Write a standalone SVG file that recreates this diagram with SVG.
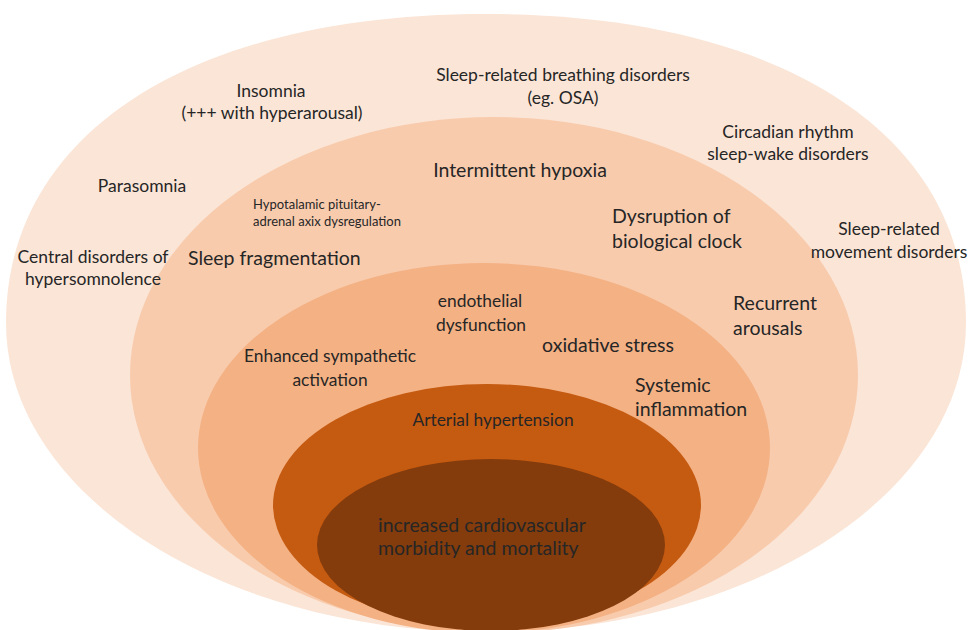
<svg xmlns="http://www.w3.org/2000/svg" width="968" height="630" viewBox="0 0 968 630">
<style>
text{font-family:Lato,"Open Sans","Liberation Sans",sans-serif;fill:#262626}
.c{text-anchor:middle}
.s{text-anchor:start}
.o{font-size:17.5px}
.m{font-size:19.5px}
.n{font-size:17.4px}
.h{font-size:13px}
</style>
<rect width="968" height="630" fill="#ffffff"/>
<g id="ring-sleep-disorders"><path d="M6,323 C6,133 192,14 486,14 C780,14 966,133 966,323 C966,494 751,632 486,632 C221,632 6,494 6,323 Z" fill="#fbe5d6"/></g>
<g id="ring-mechanisms"><ellipse cx="494" cy="375" rx="364" ry="258" fill="#f8cbad"/></g>
<g id="ring-pathways"><ellipse cx="484" cy="448" rx="286" ry="185" fill="#f4b183"/></g>
<g id="ring-hypertension"><ellipse cx="487" cy="505" rx="214" ry="121" fill="#c55a11"/></g>
<g id="ring-outcome"><ellipse cx="491" cy="545" rx="174" ry="86" fill="#843c0c"/></g>
<g id="connectors"></g>
<g id="labels">
<g id="insomnia"><text class="c o" x="271" y="97">Insomnia</text><text class="c o" x="272" y="119">(+++ with hyperarousal)</text></g>
<g id="breathing"><text class="c o" x="563" y="81">Sleep-related breathing disorders</text><text class="c o" x="563" y="104">(eg. OSA)</text></g>
<g id="circadian"><text class="c o" x="788" y="138">Circadian rhythm</text><text class="c o" x="788" y="160">sleep-wake disorders</text></g>
<g id="parasomnia"><text class="c o" x="142" y="192">Parasomnia</text></g>
<g id="central"><text class="c o" x="93" y="263">Central disorders of</text><text class="c o" x="93" y="285">hypersomnolence</text></g>
<g id="movement"><text class="c o" x="889" y="235">Sleep-related</text><text class="c o" x="889" y="258">movement disorders</text></g>
<g id="hpa"><text class="s h" x="253" y="209">Hypotalamic pituitary-</text><text class="s h" x="253" y="226">adrenal axix dysregulation</text></g>
<g id="fragmentation"><text class="s m" x="188" y="265">Sleep fragmentation</text></g>
<g id="hypoxia"><text class="c m" x="520" y="177">Intermittent hypoxia</text></g>
<g id="clock"><text class="s m" x="612" y="223">Dysruption of</text><text class="s m" x="612" y="248">biological clock</text></g>
<g id="arousals"><text class="s m" x="733" y="310">Recurrent</text><text class="s m" x="733" y="335">arousals</text></g>
<g id="endothelial"><text class="c n" x="480" y="307">endothelial</text><text class="c n" x="481" y="331">dysfunction</text></g>
<g id="oxidative"><text class="c m" x="608" y="352">oxidative stress</text></g>
<g id="sympathetic"><text class="c n" x="330" y="362">Enhanced sympathetic</text><text class="c n" x="330" y="386">activation</text></g>
<g id="inflammation"><text class="s m" x="635" y="392">Systemic</text><text class="s m" x="635" y="416">inflammation</text></g>
<g id="hypertension"><text class="c n" x="493" y="426">Arterial hypertension</text></g>
<g id="outcome"><text class="s m" x="378" y="532">increased cardiovascular</text><text class="s m" x="378" y="555">morbidity and mortality</text></g>
</g>
</svg>
